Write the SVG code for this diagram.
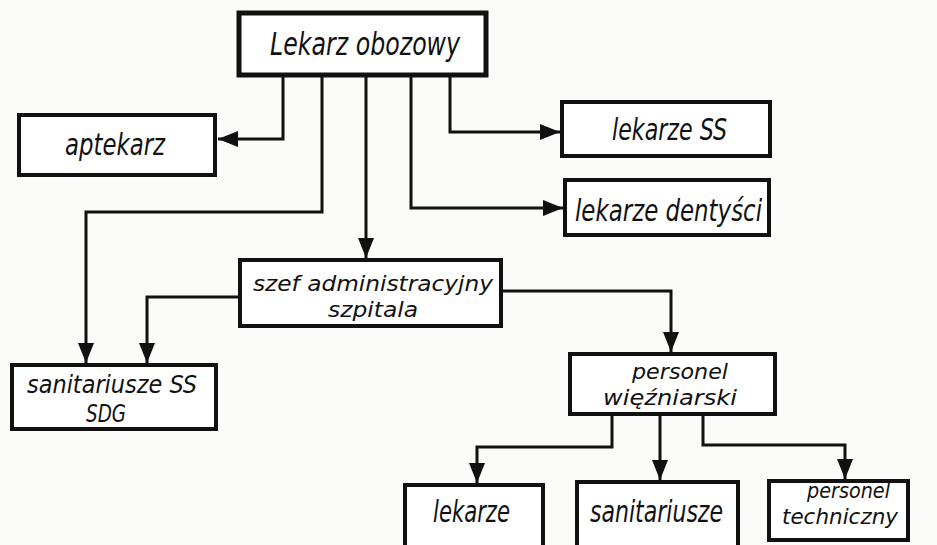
<svg xmlns="http://www.w3.org/2000/svg" width="937" height="545" viewBox="0 0 937 545">
<style>
.bg{fill:#fbfbfa}
.box{fill:#ffffff;stroke:#111;stroke-width:4}
.top{stroke-width:5}
.lbl{font-family:"DejaVu Sans Condensed","DejaVu Sans","Liberation Sans",sans-serif;font-style:oblique;fill:#111}
.c{fill:none;stroke:#111;stroke-width:3;marker-end:url(#ah)}
</style>
<defs>
<marker id="ah" markerUnits="userSpaceOnUse" markerWidth="20" markerHeight="16" refX="20" refY="8" orient="auto">
<path d="M0,0 L20,8 L0,16 z" fill="#111"/>
</marker>
</defs>
<rect class="bg" width="937" height="545"/>
<g id="connectors">
<path class="c" d="M283,76 V139 H218"/>
<path class="c" d="M322,76 V212 H86 V363"/>
<path class="c" d="M366,76 V258"/>
<path class="c" d="M411,76 V208 H563"/>
<path class="c" d="M450,76 V132 H560"/>
<path class="c" d="M238,297 H147 V363"/>
<path class="c" d="M503,291 H671 V352"/>
<path class="c" d="M612,416 V447 H477 V483"/>
<path class="c" d="M660,416 V480"/>
<path class="c" d="M703,416 V445 H845 V479"/>
</g>
<g id="lekarz-obozowy">
<rect class="box top" x="239" y="13" width="247" height="62"/>
<text class="lbl" font-size="32" x="270" y="55" textLength="190" lengthAdjust="spacingAndGlyphs">Lekarz  obozowy</text>
</g>
<g id="aptekarz">
<rect class="box" x="19" y="115" width="196" height="60"/>
<text class="lbl" font-size="31" x="65" y="155" textLength="100" lengthAdjust="spacingAndGlyphs">aptekarz</text>
</g>
<g id="lekarze-ss">
<rect class="box" x="562" y="102" width="208" height="54"/>
<text class="lbl" font-size="31" x="612" y="140" textLength="115" lengthAdjust="spacingAndGlyphs">lekarze SS</text>
</g>
<g id="lekarze-dentysci">
<rect class="box" x="565" y="180" width="204" height="55"/>
<text class="lbl" font-size="31" x="575" y="221" textLength="187" lengthAdjust="spacingAndGlyphs">lekarze dentyści</text>
</g>
<g id="szef">
<rect class="box" x="240" y="260" width="261" height="66"/>
<text class="lbl" font-size="22"><tspan x="253" y="291" textLength="240" lengthAdjust="spacingAndGlyphs">szef administracyjny</tspan><tspan x="328" y="317" textLength="90" lengthAdjust="spacingAndGlyphs">szpitala</tspan></text>
</g>
<g id="sanitariusze-ss">
<rect class="box" x="12" y="365" width="204" height="64"/>
<text class="lbl" font-size="24"><tspan x="27" y="393" textLength="170" lengthAdjust="spacingAndGlyphs">sanitariusze SS</tspan><tspan x="86" y="422" textLength="40" lengthAdjust="spacingAndGlyphs">SDG</tspan></text>
</g>
<g id="personel-wiezniarski">
<rect class="box" x="570" y="354" width="205" height="60"/>
<text class="lbl" font-size="22"><tspan x="632" y="379" textLength="96" lengthAdjust="spacingAndGlyphs">personel</tspan><tspan x="603" y="405" textLength="134" lengthAdjust="spacingAndGlyphs">więźniarski</tspan></text>
</g>
<g id="lekarze">
<rect class="box" x="405" y="485" width="138" height="72"/>
<text class="lbl" font-size="31" x="433" y="522" textLength="77" lengthAdjust="spacingAndGlyphs">lekarze</text>
</g>
<g id="sanitariusze">
<rect class="box" x="577" y="482" width="161" height="75"/>
<text class="lbl" font-size="31" x="590" y="522" textLength="133" lengthAdjust="spacingAndGlyphs">sanitariusze</text>
</g>
<g id="personel-techniczny">
<rect class="box" x="769" y="481" width="139" height="59"/>
<text class="lbl" font-size="22"><tspan x="807" y="498" textLength="83" lengthAdjust="spacingAndGlyphs">personel</tspan><tspan x="782" y="524" textLength="116" lengthAdjust="spacingAndGlyphs">techniczny</tspan></text>
</g>
</svg>
